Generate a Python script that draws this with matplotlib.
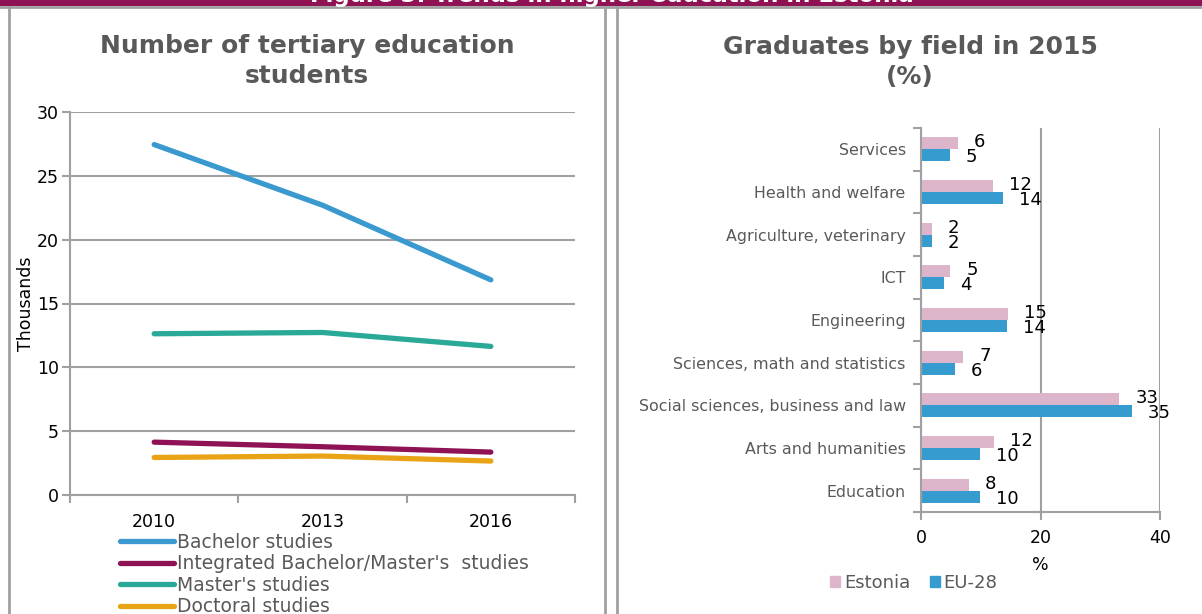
import matplotlib.pyplot as plt
from matplotlib.lines import Line2D
from matplotlib.patches import Patch, Rectangle
import numpy as np

# ---- data: tertiary students (thousands) ----
years = ["2010", "2013", "2016"]
bachelor = [27.45, 22.7, 16.85]
integrated = [4.14, 3.78, 3.36]
masters = [12.63, 12.73, 11.64]
doctoral = [2.94, 3.05, 2.66]

# ---- data: graduates by field in 2015 (%) ----
fields = ["Services", "Health and welfare", "Agriculture, veterinary", "ICT",
          "Engineering", "Sciences, math and statistics",
          "Social sciences, business and law", "Arts and humanities", "Education"]
estonia = [6.2, 12.0, 1.85, 4.9, 14.6, 7.1, 33.2, 12.3, 8.0]
eu28 = [4.8, 13.8, 1.85, 3.9, 14.45, 5.7, 35.3, 9.9, 9.9]

W, H = 1202, 614
GRID = "#A0A0A0"
TXT = "#595959"
MAROON = "#8E1254"

def fx(px):
    return px / W

def fy(py):
    return 1 - py / H

plt.rcParams["font.family"] = "DejaVu Sans"
fig = plt.figure(figsize=(W / 100, H / 100), dpi=100)

# banner + panel frames
fig.patches.append(Rectangle((0, fy(6)), 1, 1 - fy(6), transform=fig.transFigure,
                             facecolor=MAROON, edgecolor="none"))
fig.text(fx(612), fy(2), "Figure 3: Trends in higher education in Estonia",
         color="white", fontsize=16.5, fontweight="bold", ha="center", va="baseline")
for xs, ys in [([0, 1], [fy(7), fy(7)]), ([fx(9), fx(9)], [0, fy(7)]),
               ([fx(605), fx(605)], [0, fy(7)]), ([fx(617), fx(617)], [0, fy(7)])]:
    fig.add_artist(Line2D(xs, ys, color=GRID, lw=2, transform=fig.transFigure))

# ---------------- left: line chart ----------------
ax1 = fig.add_axes([fx(70), fy(495), fx(575 - 70), fy(112) - fy(495)])
x = np.arange(len(years))
series = [("Bachelor studies", bachelor, "#3A9AD0"),
          ("Integrated Bachelor/Master's  studies", integrated, MAROON),
          ("Master's studies", masters, "#2AA898"),
          ("Doctoral studies", doctoral, "#E8A317")]
for label, vals, col in series:
    ax1.plot(x, vals, color=col, lw=3.8, solid_capstyle="round", label=label)

ax1.set_xlim(-0.5, 2.5)
ax1.set_ylim(0, 30)
ax1.set_yticks(range(0, 31, 5))
ax1.set_xticks(x)
ax1.set_xticklabels(years)
ax1.set_xticks([-0.5, 0.5, 1.5, 2.5], minor=True)
ax1.tick_params(axis="x", which="major", length=0, pad=13, labelsize=12.5)
ax1.tick_params(axis="x", which="minor", length=6, color=GRID, width=1.5, direction="out")
ax1.tick_params(axis="y", length=6, color=GRID, width=1.5, labelsize=12.5, pad=2)
ax1.grid(axis="y", color=GRID, lw=1.5)
ax1.set_axisbelow(True)
for s in ["top", "right"]:
    ax1.spines[s].set_visible(False)
for s in ["left", "bottom"]:
    ax1.spines[s].set_color(GRID)
    ax1.spines[s].set_linewidth(1.5)
ax1.set_ylabel("Thousands", fontsize=12.5, labelpad=1)
fig.text(fx(307), fy(61), "Number of tertiary education\nstudents", ha="center", va="center",
         fontsize=18, fontweight="bold", color=TXT, linespacing=1.3)

leg1 = fig.legend(handles=[Line2D([], [], color=c, lw=3.8, solid_capstyle="round") for _, _, c in series],
                  labels=[l for l, _, _ in series], loc="upper left",
                  bbox_to_anchor=(fx(120), fy(533)), frameon=False, fontsize=13.5,
                  handlelength=2.9, handletextpad=0.15, labelspacing=0.13,
                  borderpad=0, borderaxespad=0)
for t in leg1.get_texts():
    t.set_color(TXT)

# ---------------- right: bar chart ----------------
ax2 = fig.add_axes([fx(921), fy(512), fx(1160 - 921), fy(128) - fy(512)])
y = np.arange(len(fields))
h = 0.28
b_est = ax2.barh(y - h / 2, estonia, height=h, color="#DDB5CB", label="Estonia")
b_eu = ax2.barh(y + h / 2, eu28, height=h, color="#369BCF", label="EU-28")
for bar, v in zip(b_est, estonia):
    ax2.annotate(f"{v:.0f}", (bar.get_width(), bar.get_y() + bar.get_height() / 2),
                 xytext=(16, 1), textcoords="offset pixels", ha="left", va="center",
                 fontsize=13, color="black")
for bar, v in zip(b_eu, eu28):
    ax2.annotate(f"{v:.0f}", (bar.get_width(), bar.get_y() + bar.get_height() / 2),
                 xytext=(16, -2), textcoords="offset pixels", ha="left", va="center",
                 fontsize=13, color="black")

ax2.set_xlim(0, 40)
ax2.set_ylim(len(fields) - 0.5, -0.5)
ax2.set_xticks([0, 20, 40])
ax2.set_yticks(y)
ax2.set_yticklabels(fields, color=TXT)
ax2.set_yticks(np.arange(-0.5, len(fields)), minor=True)
ax2.tick_params(axis="y", which="major", length=0, pad=11, labelsize=11.4)
ax2.tick_params(axis="y", which="minor", length=6, color=GRID, width=1.5)
ax2.tick_params(axis="x", length=6, color=GRID, width=1.5, labelsize=12.5, pad=6)
ax2.grid(axis="x", color=GRID, lw=1.5)
ax2.set_axisbelow(True)
for s in ["top", "right"]:
    ax2.spines[s].set_visible(False)
for s in ["left", "bottom"]:
    ax2.spines[s].set_color(GRID)
    ax2.spines[s].set_linewidth(1.5)
ax2.set_xlabel("%", fontsize=12.5, labelpad=7)
fig.text(fx(910), fy(62), "Graduates by field in 2015\n(%)", ha="center", va="center",
         fontsize=18, fontweight="bold", color=TXT, linespacing=1.35)

leg2 = fig.legend(handles=[Patch(color="#DDB5CB"), Patch(color="#369BCF")],
                  labels=["Estonia", "EU-28"], loc="center", ncol=2,
                  bbox_to_anchor=(fx(914), fy(583)), frameon=False, fontsize=13,
                  handlelength=0.55, handleheight=0.55, handletextpad=0.2, columnspacing=1.1)
for t in leg2.get_texts():
    t.set_color(TXT)

fig.savefig("out.png", dpi=100)
